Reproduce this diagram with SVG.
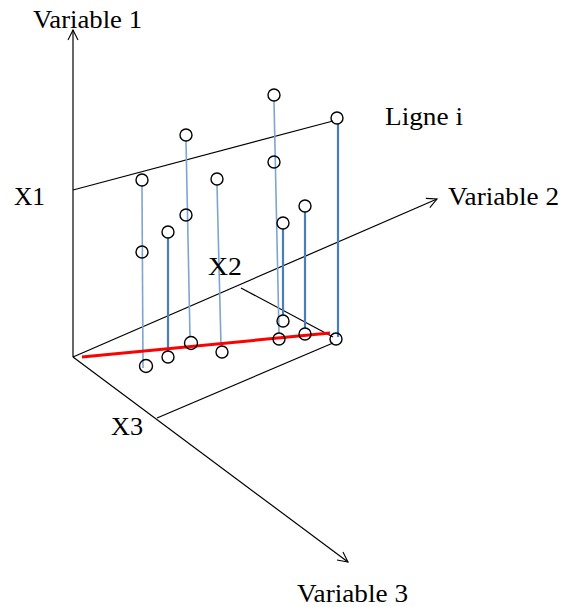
<svg xmlns="http://www.w3.org/2000/svg" width="564" height="607" viewBox="0 0 564 607">
<defs>
<marker id="arr" viewBox="0 0 12 12" refX="11" refY="6" markerWidth="12" markerHeight="12" markerUnits="userSpaceOnUse" orient="auto">
<path d="M1,1 L11,6 L1,11" fill="none" stroke="#000" stroke-width="1.1"/>
</marker>
</defs>
<style>
text{font-family:"Liberation Serif","Times New Roman",serif;font-size:25px;fill:#000}
.ax{stroke:#000;stroke-width:1.2;fill:none}
.pt{fill:none;stroke:#000;stroke-width:1.4}
.lt{stroke:#7fa4d4;stroke-width:1.6;fill:none}
.dk{stroke:#4a7ebb;stroke-width:2.2;fill:none}
.red{stroke:#ff0000;stroke-width:3;fill:none}
</style>
<rect width="564" height="607" fill="#fff"/>
<g id="connectors">
<line class="ax" x1="73" y1="357" x2="73" y2="30" marker-end="url(#arr)"/>
<line class="ax" x1="73" y1="357" x2="437" y2="199" marker-end="url(#arr)"/>
<line class="ax" x1="73" y1="357" x2="348" y2="562" marker-end="url(#arr)"/>
<line class="ax" x1="73" y1="190" x2="333" y2="121"/>
<line class="ax" x1="241" y1="288" x2="333" y2="337"/>
<line class="ax" x1="157" y1="418" x2="333" y2="343"/>
<line class="lt" x1="142" y1="186" x2="143" y2="368"/>
<line class="dk" x1="168" y1="238" x2="168" y2="351"/>
<line class="lt" x1="186" y1="141" x2="190" y2="337"/>
<line class="lt" x1="217" y1="185" x2="221" y2="346"/>
<line class="lt" x1="274" y1="101" x2="279" y2="333"/>
<line class="dk" x1="283" y1="229" x2="283" y2="315"/>
<line class="dk" x1="305" y1="212" x2="305" y2="328"/>
<line class="dk" x1="338" y1="124" x2="338" y2="337"/>
<line class="red" x1="82" y1="357" x2="330" y2="333"/>
</g>
<g id="p1"><circle class="pt" cx="142" cy="180" r="6"/></g>
<g id="p2"><circle class="pt" cx="186" cy="135" r="6"/></g>
<g id="p3"><circle class="pt" cx="274" cy="95" r="6"/></g>
<g id="p4"><circle class="pt" cx="337" cy="118" r="6"/></g>
<g id="p5"><circle class="pt" cx="217" cy="179" r="6"/></g>
<g id="p6"><circle class="pt" cx="274" cy="162" r="6"/></g>
<g id="p7"><circle class="pt" cx="186" cy="215" r="6"/></g>
<g id="p8"><circle class="pt" cx="168" cy="232" r="6"/></g>
<g id="p9"><circle class="pt" cx="142" cy="252" r="6"/></g>
<g id="p10"><circle class="pt" cx="283" cy="223" r="6"/></g>
<g id="p11"><circle class="pt" cx="305" cy="206" r="6"/></g>
<g id="q1"><circle class="pt" cx="146" cy="366" r="6.5"/></g>
<g id="q2"><circle class="pt" cx="168" cy="357" r="6"/></g>
<g id="q3"><circle class="pt" cx="191" cy="343" r="6.5"/></g>
<g id="q4"><circle class="pt" cx="222" cy="352" r="6"/></g>
<g id="q5"><circle class="pt" cx="279" cy="339" r="6"/></g>
<g id="q6"><circle class="pt" cx="283" cy="321" r="6"/></g>
<g id="q7"><circle class="pt" cx="305" cy="334" r="6"/></g>
<g id="q8"><circle class="pt" cx="336" cy="339" r="6"/></g>
<g id="labels">
<text x="33" y="28" textLength="109" lengthAdjust="spacingAndGlyphs">Variable 1</text>
<text x="385" y="125" textLength="78" lengthAdjust="spacingAndGlyphs">Ligne i</text>
<text x="448" y="205" textLength="111" lengthAdjust="spacingAndGlyphs">Variable 2</text>
<text x="14" y="205" textLength="31" lengthAdjust="spacingAndGlyphs">X1</text>
<text x="208" y="275" textLength="34" lengthAdjust="spacingAndGlyphs">X2</text>
<text x="111" y="435" textLength="32" lengthAdjust="spacingAndGlyphs">X3</text>
<text x="297" y="602" textLength="111" lengthAdjust="spacingAndGlyphs">Variable 3</text>
</g>
</svg>
